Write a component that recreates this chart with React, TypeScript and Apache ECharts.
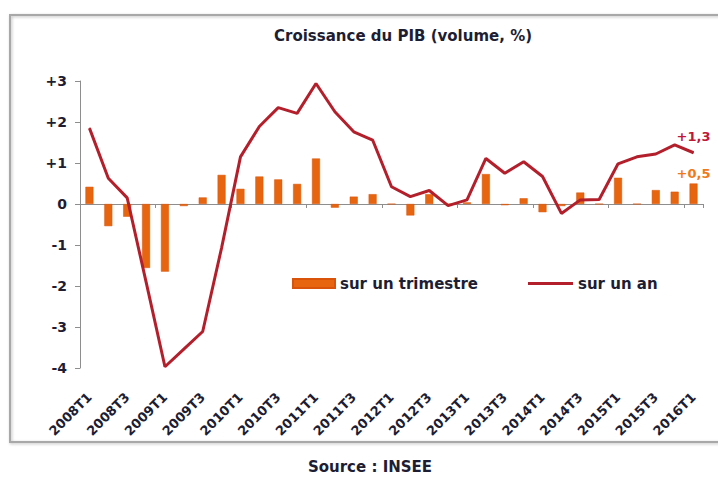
import React, { useEffect, useRef } from "react";
import * as echarts from "echarts";

const categories: string[] = [
  "2008T1", "2008T2", "2008T3", "2008T4",
  "2009T1", "2009T2", "2009T3", "2009T4",
  "2010T1", "2010T2", "2010T3", "2010T4",
  "2011T1", "2011T2", "2011T3", "2011T4",
  "2012T1", "2012T2", "2012T3", "2012T4",
  "2013T1", "2013T2", "2013T3", "2013T4",
  "2014T1", "2014T2", "2014T3", "2014T4",
  "2015T1", "2015T2", "2015T3", "2015T4",
  "2016T1",
];

// Croissance sur un trimestre (%)
const quarterly: number[] = [
  0.42, -0.54, -0.31, -1.56,
  -1.65, -0.05, 0.16, 0.71,
  0.37, 0.67, 0.6, 0.49,
  1.11, -0.09, 0.18, 0.24,
  0.0, -0.28, 0.24, 0.0,
  0.04, 0.73, -0.03, 0.14,
  -0.2, -0.05, 0.28, 0.0,
  0.64, 0.0, 0.34, 0.3,
  0.5,
];

// Croissance sur un an (%)
const yearly: number[] = [
  1.85, 0.63, 0.15, -1.9,
  -3.97, -3.54, -3.11, -1.07,
  1.15, 1.89, 2.35, 2.21,
  2.94, 2.25, 1.76, 1.56,
  0.42, 0.18, 0.33, -0.04,
  0.1, 1.11, 0.75, 1.03,
  0.67, -0.23, 0.1, 0.11,
  0.98, 1.15, 1.22, 1.44,
  1.25,
];

const yTicks: number[] = [-4, -3, -2, -1, 0, 1, 2, 3];

const TITLE = "Croissance du PIB (volume, %)";
const SOURCE = "Source : INSEE";
const BAR_NAME = "sur un trimestre";
const LINE_NAME = "sur un an";
const BAR_LAST_LABEL = "+0,5";
const LINE_LAST_LABEL = "+1,3";

const FONT = "'DejaVu Sans', Verdana, sans-serif";
const TEXT = "#1d1d33";
const ORANGE = "#E8650F";
const RED = "#B3202C";

export default function App() {
  const ref = useRef<HTMLDivElement>(null);

  useEffect(() => {
    if (!ref.current) return;
    const chart = echarts.init(ref.current, undefined, { renderer: "svg" });
    const last = categories.length - 1;

    const barData = quarterly.map((v, i) =>
      i === last
        ? {
            value: v,
            label: {
              show: true,
              position: "top",
              distance: 4,
              formatter: () => BAR_LAST_LABEL,
              color: "#F07A1A",
              fontFamily: FONT,
              fontWeight: "bold",
              fontSize: 13,
            },
          }
        : v
    );
    const lineData = yearly.map((v, i) =>
      i === last
        ? {
            value: v,
            label: {
              show: true,
              position: "top",
              distance: 9,
              formatter: () => LINE_LAST_LABEL,
              color: "#C01838",
              fontFamily: FONT,
              fontWeight: "bold",
              fontSize: 13,
            },
          }
        : v
    );

    chart.setOption({
      animation: false,
      backgroundColor: "#ffffff",
      textStyle: { fontFamily: FONT },
      title: {
        text: TITLE,
        left: 398,
        top: 23,
        textAlign: "center",
        textStyle: { fontFamily: FONT, fontWeight: "bold", fontSize: 15, color: TEXT },
      },
      graphic: [
        {
          type: "rect",
          shape: { x: 10, y: 15, width: 730, height: 427 },
          style: {
            fill: "none",
            stroke: "#a8a8a8",
            lineWidth: 2,
            shadowBlur: 3,
            shadowColor: "rgba(0,0,0,0.25)",
            shadowOffsetX: 1,
            shadowOffsetY: 1,
          },
          z: 0,
          silent: true,
        },
        {
          type: "text",
          x: 370,
          y: 467,
          style: {
            text: SOURCE,
            fill: TEXT,
            font: `bold 15px ${FONT}`,
            textAlign: "center",
            textVerticalAlign: "middle",
          },
        },
      ],
      legend: [
        {
          data: [{ name: BAR_NAME, icon: "rect" }],
          left: 292,
          top: 276,
          padding: 0,
          itemWidth: 42,
          itemHeight: 9,
          textStyle: { fontFamily: FONT, fontWeight: "bold", fontSize: 15, color: TEXT },
        },
        {
          data: [{ name: LINE_NAME, icon: "rect" }],
          left: 528,
          top: 276,
          padding: 0,
          itemWidth: 45,
          itemHeight: 3,
          textStyle: { fontFamily: FONT, fontWeight: "bold", fontSize: 15, color: TEXT },
        },
      ],
      grid: { left: 80, right: 15, top: 81, bottom: 109, containLabel: false },
      xAxis: [
        {
          type: "category",
          data: categories,
          position: "bottom",
          axisLine: { show: false, onZero: false },
          axisTick: { show: false },
          axisLabel: {
            interval: 1,
            rotate: 45,
            margin: 27,
            fontFamily: FONT,
            fontWeight: "bold",
            fontSize: 13,
            color: TEXT,
          },
        },
        {
          type: "category",
          data: categories,
          position: "bottom",
          axisLine: { show: true, onZero: true, lineStyle: { color: "#8e8e8e", width: 1 } },
          axisTick: { show: true, length: 4, lineStyle: { color: "#8e8e8e" } },
          axisLabel: { show: false },
        },
      ],
      yAxis: {
        type: "value",
        min: yTicks[0],
        max: yTicks[yTicks.length - 1],
        interval: 1,
        axisLine: { show: true, lineStyle: { color: "#8e8e8e", width: 1 } },
        axisTick: { show: true, length: 5, lineStyle: { color: "#8e8e8e" } },
        splitLine: { show: false },
        axisLabel: {
          margin: 13,
          fontFamily: FONT,
          fontWeight: "bold",
          fontSize: 14,
          color: TEXT,
          formatter: (v: number) => (v > 0 ? "+" + v : String(v)),
        },
      },
      series: [
        {
          name: BAR_NAME,
          type: "bar",
          xAxisIndex: 0,
          data: barData,
          barWidth: 8,
          itemStyle: { color: ORANGE, borderColor: "#D9540A", borderWidth: 0.5 },
          z: 2,
        },
        {
          name: LINE_NAME,
          type: "line",
          xAxisIndex: 0,
          data: lineData,
          symbol: "circle",
          symbolSize: 1,
          showSymbol: true,
          lineStyle: { color: RED, width: 3 },
          itemStyle: { color: RED },
          z: 3,
        },
      ],
    });

    return () => chart.dispose();
  }, []);

  return (
    <div
      ref={ref}
      style={{ position: "fixed", left: 0, top: 0, width: 718, height: 477, background: "#fff" }}
    />
  );
}
